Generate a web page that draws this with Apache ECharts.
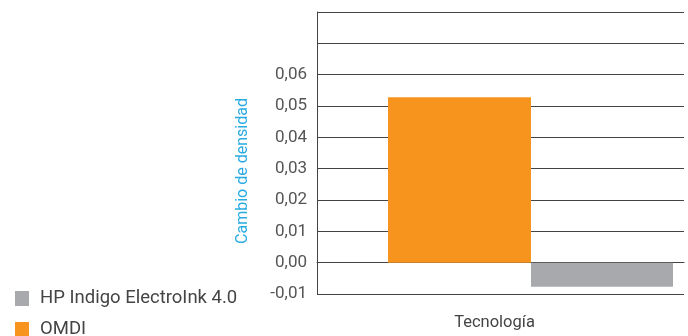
<!DOCTYPE html>
<html><head><meta charset="utf-8">
<script src="https://cdn.jsdelivr.net/npm/echarts@6/dist/echarts.min.js"></script>
<style>html,body{margin:0;padding:0;background:#fff}#c{width:688px;height:336px}</style>
</head><body><div id="c"></div>
<script>
const categories = ['Tecnología'];
const seriesNames = ['OMDI', 'HP Indigo ElectroInk 4.0'];
const omdiValues = [0.0528];
const hpValues = [-0.0077];
const legendOrder = ['HP Indigo ElectroInk 4.0', 'OMDI'];
const yTickLabels = ['-0,01', '0,00', '0,01', '0,02', '0,03', '0,04', '0,05', '0,06', '', ''];
const yMin = -0.01, yMax = 0.08, yStep = 0.01;
const xAxisName = 'Tecnología';
const yAxisName = 'Cambio de densidad';

const FONT = 'Roboto, sans-serif';
const legendTops = [289, 320];
const legends = legendOrder.map(function (name, i) {
  return {
    data: [name], orient: 'vertical', left: 15, top: legendTops[i], padding: 0,
    icon: 'rect', itemWidth: 14, itemHeight: 15,
    textStyle: {fontFamily: FONT, fontSize: 18.5, color: '#444', padding: [0, 0, 0, 6]}
  };
});
const chart = echarts.init(document.getElementById('c'), null, {renderer: 'canvas'});
chart.setOption({
  animation: false,
  textStyle: {fontFamily: FONT},
  grid: [
    {left: 317, right: 4, top: 12, bottom: 42},
    {left: 377, right: 4, top: 12, bottom: 42}
  ],
  legend: legends,
  xAxis: [
    {gridIndex: 0, type: 'category', data: categories,
     axisLine: {show: true, lineStyle: {color: '#444'}}, axisTick: {show: false},
     axisLabel: {show: false},
     name: xAxisName, nameLocation: 'middle', nameGap: 20,
     nameTextStyle: {fontFamily: FONT, fontSize: 16.5, color: '#444', padding: [0, 0, 0, -12]}},
    {gridIndex: 1, type: 'category', data: categories, show: false}
  ],
  yAxis: [
    {gridIndex: 0, type: 'value', min: yMin, max: yMax, interval: yStep,
     axisLine: {show: true, lineStyle: {color: '#444'}}, axisTick: {show: false},
     splitLine: {lineStyle: {color: '#444', width: 1}},
     axisLabel: {fontFamily: FONT, fontSize: 17, color: '#555', margin: 10,
       formatter: function (v) { return yTickLabels[Math.round((v - yMin) / yStep)] || ''; }}},
    {gridIndex: 1, type: 'value', min: yMin, max: yMax, interval: yStep, show: false, splitLine: {show: false}}
  ],
  graphic: [{
    type: 'text', x: 235, y: 171, rotation: Math.PI / 2, originX: 0, originY: 0,
    style: {text: yAxisName, fill: '#29ABE2', font: '16px ' + FONT, align: 'center', verticalAlign: 'top'}
  }],
  series: [
    {name: seriesNames[0], type: 'bar', xAxisIndex: 1, yAxisIndex: 1, data: omdiValues,
     barWidth: 143, barGap: 0, itemStyle: {color: '#F7941D'}},
    {name: seriesNames[1], type: 'bar', xAxisIndex: 1, yAxisIndex: 1, data: hpValues,
     barWidth: 142, barGap: 0, itemStyle: {color: '#A7A9AC'}}
  ]
});
</script></body></html>
